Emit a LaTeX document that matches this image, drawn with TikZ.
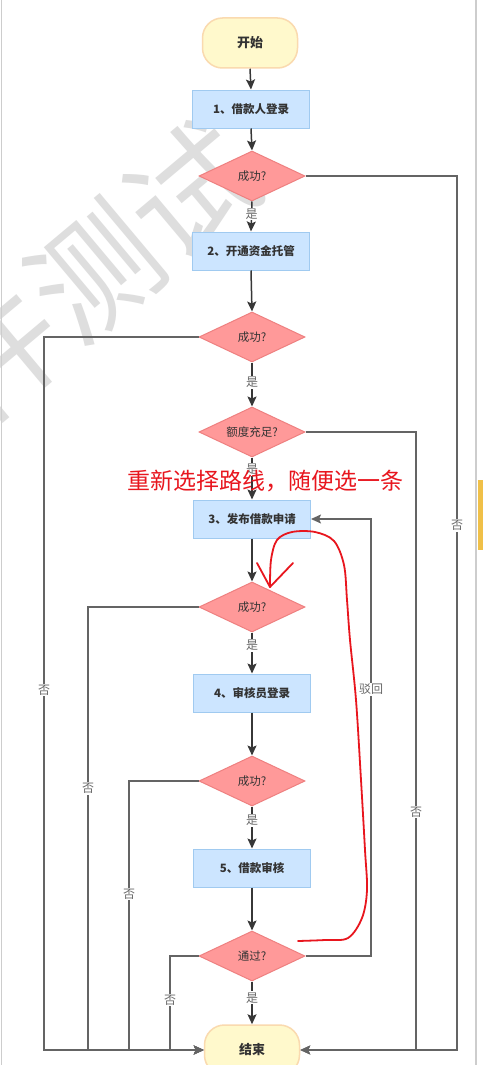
\documentclass[tikz,border=0pt]{standalone}
\usepackage{fontspec}
\newfontfamily\cjk{Noto Sans CJK SC}
\usetikzlibrary{shapes.geometric,arrows.meta,calc}
\definecolor{termfill}{RGB}{255,249,204}
\definecolor{termdraw}{RGB}{250,218,175}
\definecolor{procfill}{RGB}{204,229,255}
\definecolor{procdraw}{RGB}{160,202,240}
\definecolor{decfill}{RGB}{255,153,153}
\definecolor{decdraw}{RGB}{238,128,128}
\definecolor{txt}{RGB}{51,51,51}
\definecolor{flowcol}{RGB}{55,55,55}
\definecolor{sidecol}{RGB}{100,100,100}
\definecolor{lblcol}{RGB}{105,105,105}
\definecolor{penred}{RGB}{232,22,30}
\definecolor{wmcol}{RGB}{222,222,222}
\definecolor{edgecol}{RGB}{205,205,205}
\definecolor{barcol}{RGB}{240,192,72}
\tikzset{
  term/.style={rectangle, rounded corners=20pt, minimum width=95pt, minimum height=50pt,
    fill=termfill, draw=termdraw, line width=1.5pt, text=txt,
    font=\cjk\bfseries\fontsize{13}{13}\selectfont},
  proc/.style={rectangle, minimum width=117pt, minimum height=38pt,
    fill=procfill, draw=procdraw, line width=1pt, text=txt,
    font=\cjk\bfseries\fontsize{11.5}{11.5}\selectfont},
  dec/.style={diamond, aspect=2.1, minimum width=106pt, minimum height=50pt, inner sep=0pt,
    fill=decfill, draw=decdraw, line width=1pt, text=txt,
    font=\cjk\fontsize{11.5}{11.5}\selectfont},
  flow/.style={draw=flowcol, line width=1.5pt, -{Stealth[length=10pt,width=9pt,inset=2pt]}},
  side/.style={draw=sidecol, line width=1.5pt, -{Stealth[length=10pt,width=9pt,inset=2pt]}},
  lbl/.style={fill=white, inner sep=1pt, text=lblcol, font=\cjk\fontsize{12}{12}\selectfont},
  redpen/.style={draw=penred, line width=1.8pt, line cap=round, line join=round},
}
\begin{document}
\begin{tikzpicture}[x=1pt,y=-1pt]
\useasboundingbox (0,0) rectangle (483,1065);
\fill[white] (0,0) rectangle (483,1065);
% watermark
\node[font=\cjk\fontsize{126}{126}\selectfont, text=wmcol, rotate=40, inner sep=0pt] (wm) at (95,272) {件测试};
% screenshot edges
\draw[edgecol, line width=1pt] (1,0) -- (1,1065);
\draw[edgecol, line width=1.5pt] (476,0) -- (476,1065);
\fill[barcol] (477.5,480) rectangle (483,550);

% nodes
\node[term] (start) at (250,43) {开始};
\node[proc] (p1) at (251,109) {1、借款人登录};
\node[dec]  (d1) at (252,176) {成功?};
\node[proc] (p2) at (251,251) {2、开通资金托管};
\node[dec]  (d2) at (252,337) {成功?};
\node[dec]  (d3) at (252,432) {额度充足?};
\node[proc] (p3) at (252,519) {3、发布借款申请};
\node[dec]  (d4) at (252,607) {成功?};
\node[proc] (p4) at (252,693) {4、审核员登录};
\node[dec]  (d5) at (252,781) {成功?};
\node[proc] (p5) at (252,868) {5、借款审核};
\node[dec]  (d6) at (252,956) {通过?};
\node[term] (end) at (252,1050) {结束};

% main flow
\draw[flow] (start.south) -- (p1.north);
\draw[flow] (p1.south) -- (d1.north);
\draw[flow] (d1.south) -- node[lbl,pos=0.42]{是} (p2.north);
\draw[flow] (p2.south) -- (d2.north);
\draw[flow] (d2.south) -- node[lbl,pos=0.45]{是} (d3.north);
\draw[flow] (d3.south) -- node[lbl,pos=0.28]{是} (p3.north);
\draw[flow] (p3.south) -- (d4.north);
\draw[flow] (d4.south) -- node[lbl,pos=0.32]{是} (p4.north);
\draw[flow] (p4.south) -- (d5.north);
\draw[flow] (d5.south) -- node[lbl,pos=0.33]{是} (p5.north);
\draw[flow] (p5.south) -- (d6.north);
\draw[flow] (d6.south) -- node[lbl,pos=0.38]{是} (end.north);

% side corners
\coordinate (r1) at (457,176);  \coordinate (r1b) at (457,1050);
\coordinate (r3) at (416,432);  \coordinate (r3b) at (416,1050);
\coordinate (l2) at (44,337);   \coordinate (l2b) at (44,1050);
\coordinate (l4) at (88,607);   \coordinate (l4b) at (88,1050);
\coordinate (l5) at (129,781);  \coordinate (l5b) at (129,1050);
\coordinate (l6) at (170,956);  \coordinate (l6b) at (170,1050);
\coordinate (b1) at (371,956);  \coordinate (b2) at (371,519);

\draw[side] (d1.east) -- (r1) -- node[lbl,pos=0.40]{否} (r1b) -- (end.east);
\draw[side] (d3.east) -- (r3) -- node[lbl,pos=0.615]{否} (r3b) -- (end.east);
\draw[side] (d2.west) -- (l2) -- node[lbl,pos=0.495]{否} (l2b) -- (end.west);
\draw[side] (d4.west) -- (l4) -- node[lbl,pos=0.41]{否} (l4b) -- (end.west);
\draw[side] (d5.west) -- (l5) -- node[lbl,pos=0.42]{否} (l5b) -- (end.west);
\draw[side] (d6.west) -- (l6) -- node[lbl,pos=0.47]{否} (l6b) -- (end.west);
\draw[side] (d6.east) -- (b1) -- node[lbl,pos=0.61]{驳回} (b2) -- (p3.east);

% red annotation
\node[font=\cjk\fontsize{23}{23}\selectfont, text=penred, inner sep=0pt] (note) at (265,481) {重新选择路线，随便选一条};
\draw[redpen] plot[smooth, tension=0.55] coordinates {(298,941) (325,940) (348,938) (362,918) (367,890) (365,850) (361,780) (356,700) (350,640) (347,600) (344,565) (334,541) (315,532) (292,532) (277,540) (271,560) (270,587)};
\draw[redpen] (257,563) -- (270,587) -- (293,563);
\end{tikzpicture}
\end{document}
